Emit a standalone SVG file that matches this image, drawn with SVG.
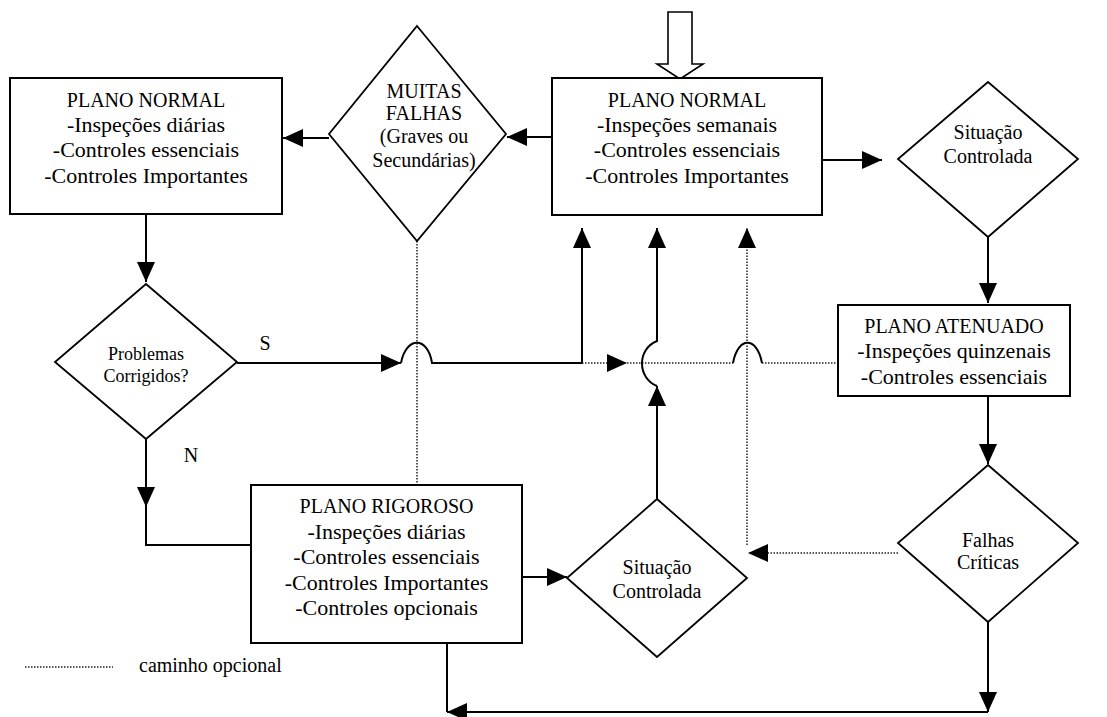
<svg xmlns="http://www.w3.org/2000/svg" width="1107" height="717" viewBox="0 0 1107 717" font-family="Liberation Serif, DejaVu Serif, serif">
  <style>
    text { font-family: Liberation Serif, DejaVu Serif, serif; fill: #000; text-anchor: middle; }
    .title { font-size: 20px; }
    .item { font-size: 22px; }
    .dtxt { font-size: 20px; }
    .small { font-size: 18px; }
    .box { fill: #fff; stroke: #000; stroke-width: 2; }
    .dia { fill: #fff; stroke: #000; stroke-width: 1.8; }
    .ln { fill: none; stroke: #000; stroke-width: 2; }
    .dot { fill: none; stroke: #222; stroke-width: 1.5; stroke-dasharray: 1.5 1.5; }
    .hollow { fill: #fff; stroke: #000; stroke-width: 1.6; }
  </style>
  <defs>
    <marker id="ah" markerUnits="userSpaceOnUse" markerWidth="20" markerHeight="18" refX="20" refY="9" orient="auto">
      <path d="M0,0 L20,9 L0,18 Z" fill="#000"/>
    </marker>
  </defs>

  <!-- connectors -->
  <g id="connectors">
    <!-- entry arrow -->
    <path class="hollow" d="M668,12 H692 V64 H703 L680,79 L657,64 H668 Z"/>
    <path class="ln" d="M552,137 H507" marker-end="url(#ah)"/>
    <path class="ln" d="M329,138 H283" marker-end="url(#ah)"/>
    <path class="ln" d="M822,160 H882" marker-end="url(#ah)"/>
    <path class="ln" d="M988,237 V303" marker-end="url(#ah)"/>
    <path class="ln" d="M988,396 V464" marker-end="url(#ah)"/>
    <path class="ln" d="M146,214 V282" marker-end="url(#ah)"/>
    <!-- N branch -->
    <path class="ln" d="M146,439 V507" marker-end="url(#ah)"/>
    <path class="ln" d="M146,505 V545 H251"/>
    <!-- S branch with line hop -->
    <path class="ln" d="M237,363 H401" marker-end="url(#ah)"/>
    <path class="ln" d="M401,363 C406,336 428,336 432,363 H582 V228" marker-end="url(#ah)"/>
    <!-- optional paths -->
    <path class="dot" d="M417,241 V485"/>
    <path class="dot" d="M582,363 H627" marker-end="url(#ah)"/>
    <path class="dot" d="M627,363 H733"/>
    <path class="ln" d="M733,363 C738,336 757,336 762,363"/>
    <path class="dot" d="M762,363 H838"/>
    <path class="dot" d="M747,545 V228" marker-end="url(#ah)"/>
    <path class="dot" d="M898,553 H748" marker-end="url(#ah)"/>
    <!-- return from lower decision -->
    <path class="ln" d="M657,499 V386" marker-end="url(#ah)"/>
    <path class="ln" d="M657,386 C637,378 637,349 657,341 V228" marker-end="url(#ah)"/>
    <path class="ln" d="M522,577 H567" marker-end="url(#ah)"/>
    <!-- bottom loop -->
    <path class="ln" d="M988,622 V712" marker-end="url(#ah)"/>
    <path class="ln" d="M988,712 H447" marker-end="url(#ah)"/>
    <path class="ln" d="M447,643 V712"/>
    <!-- branch labels -->
    <text class="dtxt" x="265" y="350">S</text>
    <text class="dtxt" x="191" y="462">N</text>
  </g>

  <g id="plano-normal-diario">
    <rect class="box" x="10" y="78" width="272" height="136"/>
    <text class="title" x="146" y="107">PLANO NORMAL</text>
    <text class="item" x="146" y="132">-Inspeções diárias</text>
    <text class="item" x="146" y="157">-Controles essenciais</text>
    <text class="item" x="146" y="183">-Controles Importantes</text>
  </g>

  <g id="muitas-falhas">
    <polygon class="dia" points="417,26 506,134 417,241 329,134"/>
    <text class="dtxt" x="424" y="98">MUITAS</text>
    <text class="dtxt" x="424" y="120">FALHAS</text>
    <text class="dtxt" x="424" y="143">(Graves ou</text>
    <text class="dtxt" x="424" y="167">Secundárias)</text>
  </g>

  <g id="plano-normal-semanal">
    <rect class="box" x="552" y="78" width="270" height="137"/>
    <text class="title" x="687" y="107">PLANO NORMAL</text>
    <text class="item" x="687" y="132">-Inspeções semanais</text>
    <text class="item" x="687" y="157">-Controles essenciais</text>
    <text class="item" x="687" y="183">-Controles Importantes</text>
  </g>

  <g id="situacao-controlada-1">
    <polygon class="dia" points="988,82 1078,159 988,237 898,159"/>
    <text class="dtxt" x="988" y="139">Situação</text>
    <text class="dtxt" x="988" y="163">Controlada</text>
  </g>

  <g id="problemas-corrigidos">
    <polygon class="dia" points="146,284 237,362 146,439 55,362"/>
    <text class="small" x="146" y="360">Problemas</text>
    <text class="small" x="146" y="382">Corrigidos?</text>
  </g>

  <g id="plano-atenuado">
    <rect class="box" x="838" y="305" width="232" height="91"/>
    <text class="title" x="954" y="333">PLANO ATENUADO</text>
    <text class="item" x="954" y="358">-Inspeções quinzenais</text>
    <text class="item" x="954" y="384">-Controles essenciais</text>
  </g>

  <g id="plano-rigoroso">
    <rect class="box" x="251" y="485" width="271" height="158"/>
    <text class="title" x="386.5" y="513">PLANO RIGOROSO</text>
    <text class="item" x="386.5" y="538.5">-Inspeções diárias</text>
    <text class="item" x="386.5" y="564">-Controles essenciais</text>
    <text class="item" x="386.5" y="589.5">-Controles Importantes</text>
    <text class="item" x="386.5" y="615">-Controles opcionais</text>
  </g>

  <g id="situacao-controlada-2">
    <polygon class="dia" points="657,499 747,578 657,657 567,578"/>
    <text class="dtxt" x="657" y="574">Situação</text>
    <text class="dtxt" x="657" y="598">Controlada</text>
  </g>

  <g id="falhas-criticas">
    <polygon class="dia" points="988,465 1078,543 988,622 898,543"/>
    <text class="dtxt" x="988" y="547">Falhas</text>
    <text class="dtxt" x="988" y="569">Críticas</text>
  </g>

  <g id="legenda">
    <path class="dot" d="M25,667 H113"/>
    <text class="dtxt" x="139" y="672" style="text-anchor:start">caminho opcional</text>
  </g>
</svg>
